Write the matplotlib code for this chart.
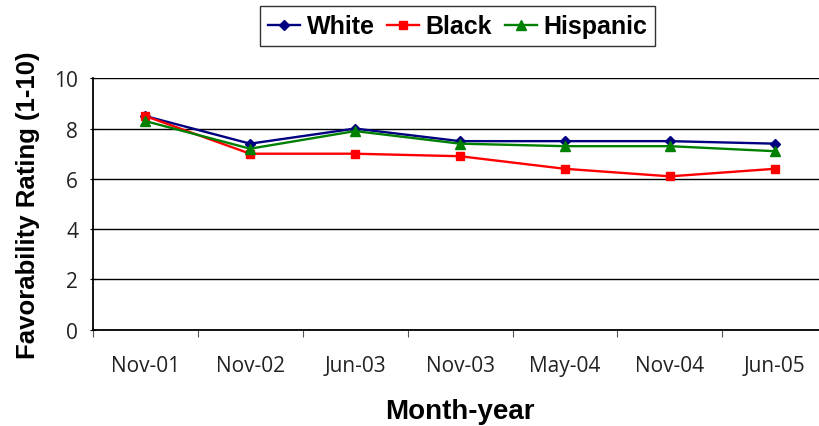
import numpy as np
import matplotlib
matplotlib.use("Agg")
import matplotlib.pyplot as plt

months = ["Nov-01", "Nov-02", "Jun-03", "Nov-03", "May-04", "Nov-04", "Jun-05"]
white = [8.5, 7.4, 8.0, 7.5, 7.5, 7.5, 7.4]
black = [8.5, 7.0, 7.0, 6.9, 6.4, 6.1, 6.4]
hispanic = [8.3, 7.2, 7.9, 7.4, 7.3, 7.3, 7.1]

fig = plt.figure(figsize=(8.2, 4.27), dpi=100)
ax = fig.add_axes([0.113, 0.2255, 0.896, 0.5888])

x = np.arange(len(months))
ax.plot(x, white, color="#000080", marker="D", markersize=5.5, lw=1.7, label="White")
ax.plot(x, black, color="#FF0000", marker="s", markersize=6, lw=1.7, label="Black")
ax.plot(x, hispanic, color="#008000", marker="^", markersize=7, lw=1.7, label="Hispanic")

ax.set_xlim(-0.5, len(months) - 0.5)
ax.set_ylim(0, 10)
ax.set_yticks([0, 2, 4, 6, 8, 10])
ax.yaxis.grid(True, color="black", lw=1)
ax.set_axisbelow(True)

ax.set_xticks(np.arange(-0.5, len(months)), minor=False)
ax.set_xticklabels([])
ax.set_xticks(x, minor=True)
ax.set_xticklabels(months, minor=True, fontsize=15, family="Open Sans", color="#222222")
ax.tick_params(axis="x", which="minor", length=0, pad=18)
ax.tick_params(axis="x", which="major", length=5, direction="out", color="#555555")
ax.tick_params(axis="y", length=5, direction="inout", labelsize=15, pad=8)
for lab in ax.get_yticklabels():
    lab.set_family("Open Sans")
    lab.set_color("#222222")

ax.spines["top"].set_visible(False)
ax.spines["right"].set_visible(False)
ax.spines["left"].set_linewidth(1.3)
ax.spines["bottom"].set_linewidth(1.3)

ax.set_xlabel("Month-year", fontsize=20, fontweight="bold", family="Liberation Sans", labelpad=16)
ax.set_ylabel("Favorability Rating (1-10)", fontsize=18.5, fontweight="bold", family="Liberation Sans", labelpad=10)

leg = fig.legend(loc="upper center", bbox_to_anchor=(0.558, 0.983), ncol=3, frameon=True,
                 prop={"family": "Liberation Sans", "weight": "bold", "size": 18},
                 handlelength=1.3, handletextpad=0.25, columnspacing=0.5,
                 borderpad=0.32, borderaxespad=0, fancybox=False)
leg.get_frame().set_edgecolor("black")
leg.get_frame().set_linewidth(1)

fig.savefig("out.png", dpi=100)
